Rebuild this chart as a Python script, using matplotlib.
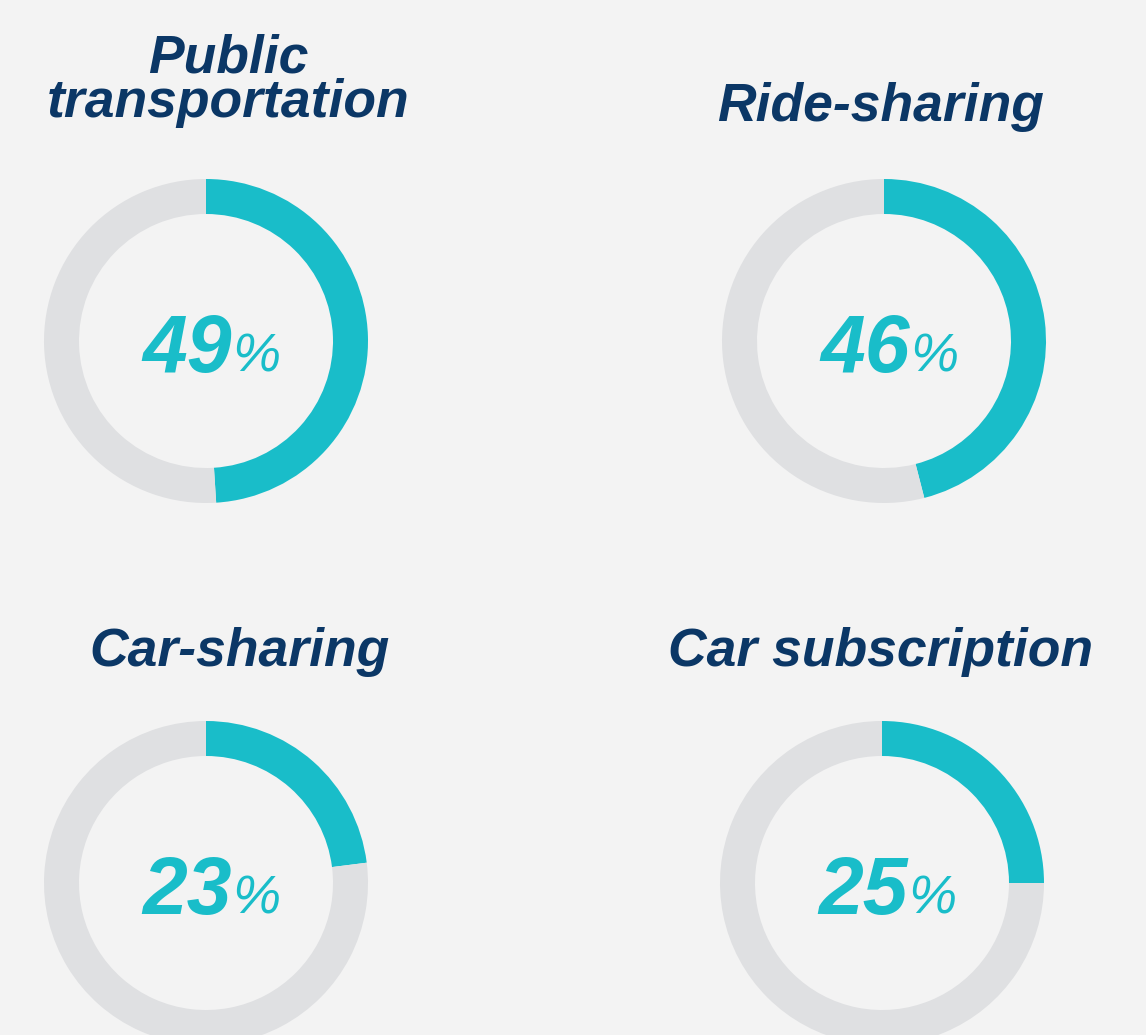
import matplotlib
matplotlib.use('Agg')
import matplotlib.pyplot as plt

# survey shares, percent
labels = ["Public\ntransportation", "Ride-sharing", "Car-sharing", "Car subscription"]
shares = [49, 46, 23, 25]

TEAL = '#19bdc9'
GREY = '#dfe0e2'
NAVY = '#0b3766'
BG = '#f3f3f3'

W, H = 1146, 1035
R = 162  # outer radius in px
centers = [(206, 341), (884, 341), (206, 883), (882, 883)]
title_x = [228, 881, 240, 880]
title_base = [117, 121, 666, 666]  # baseline of last title line, px from top

plt.rcParams['font.family'] = ['Liberation Sans', 'DejaVu Sans']

fig = plt.figure(figsize=(W / 100, H / 100), dpi=100, facecolor=BG)


def fx(x):
    return x / W


def fy(y):
    return 1 - y / H


for lab, val, (cx, cy), tx, tb in zip(labels, shares, centers, title_x, title_base):
    ax = fig.add_axes([(cx - R) / W, (H - cy - R) / H, 2 * R / W, 2 * R / H])
    ax.pie([val, 100 - val], colors=[TEAL, GREY], startangle=90, counterclock=False,
           radius=1, wedgeprops=dict(width=35 / R, linewidth=0))
    ax.set_xlim(-1, 1)
    ax.set_ylim(-1, 1)
    ax.set_aspect('equal')
    ax.axis('off')

    # value label: big number + smaller percent sign
    ax.text(26 / R, -31 / R, str(val), ha='right', va='baseline', color=TEAL,
            fontsize=58, fontweight='bold', fontstyle='italic', clip_on=False)
    ax.text(26 / R, -31 / R, '%', ha='left', va='baseline', color=TEAL,
            fontsize=39, fontstyle='italic', clip_on=False)

    fig.text(fx(tx), fy(tb), lab, ha='center', va='baseline', ma='center',
             linespacing=0.86, color=NAVY, fontsize=38.5,
             fontweight='bold', fontstyle='italic')

fig.savefig('out.png', dpi=100, facecolor=BG)
